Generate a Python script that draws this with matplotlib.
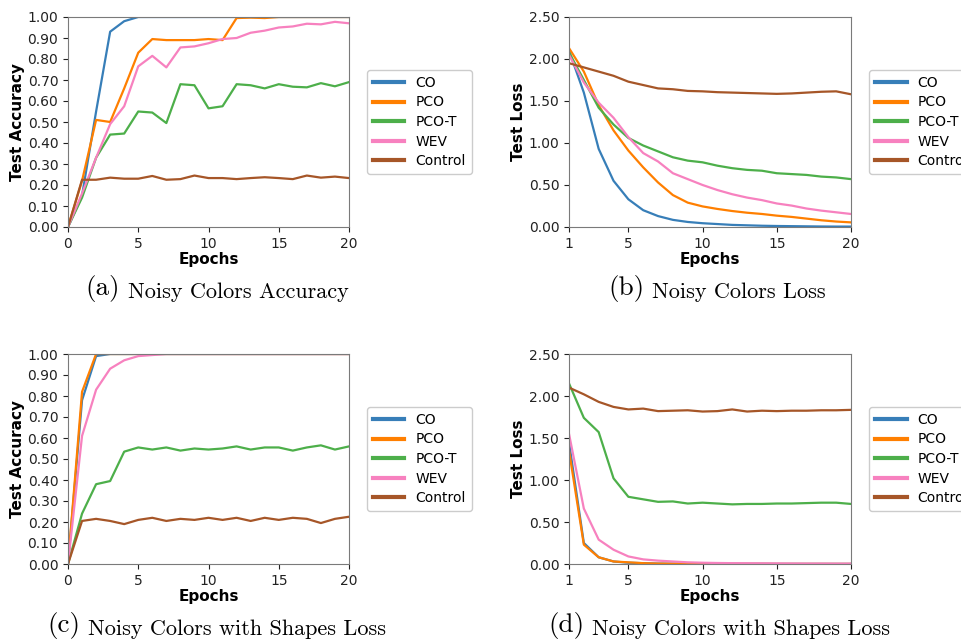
import matplotlib
matplotlib.use("Agg")
import matplotlib.pyplot as plt
from matplotlib.ticker import FormatStrFormatter

# epochs
ep_acc = list(range(0, 21))
ep_loss = list(range(1, 21))

labels = ["CO", "PCO", "PCO-T", "WEV", "Control"]
colors = ["#377eb8", "#ff7f00", "#4daf4a", "#f781bf", "#a65628"]

# (a) Noisy Colors Accuracy
a_co = [0, 0.15, 0.55, 0.93, 0.98, 1.0, 1.0, 1.0, 1.0, 1.0, 1.0, 1.0, 1.0, 1.0, 1.0, 1.0, 1.0, 1.0, 1.0, 1.0, 1.0]
a_pco = [0, 0.22, 0.51, 0.50, 0.66, 0.83, 0.895, 0.89, 0.89, 0.89, 0.895, 0.89, 0.995, 0.997, 0.995, 1.0, 1.0, 1.0, 1.0, 1.0, 1.0]
a_pcot = [0, 0.14, 0.33, 0.44, 0.445, 0.55, 0.545, 0.495, 0.68, 0.675, 0.565, 0.575, 0.68, 0.675, 0.66, 0.68, 0.668, 0.665, 0.685, 0.67, 0.69]
a_wev = [0, 0.16, 0.33, 0.49, 0.575, 0.765, 0.815, 0.76, 0.855, 0.86, 0.875, 0.895, 0.90, 0.925, 0.935, 0.95, 0.955, 0.968, 0.965, 0.977, 0.97]
a_ctrl = [0, 0.225, 0.225, 0.235, 0.23, 0.23, 0.243, 0.225, 0.228, 0.245, 0.233, 0.233, 0.228, 0.233, 0.237, 0.233, 0.228, 0.245, 0.235, 0.24, 0.233]

# (b) Noisy Colors Loss
b_co = [2.10, 1.60, 0.93, 0.55, 0.33, 0.20, 0.13, 0.085, 0.06, 0.045, 0.035, 0.025, 0.02, 0.015, 0.012, 0.01, 0.008, 0.006, 0.005, 0.005]
b_pco = [2.13, 1.85, 1.45, 1.15, 0.91, 0.71, 0.53, 0.38, 0.29, 0.245, 0.215, 0.19, 0.17, 0.155, 0.135, 0.12, 0.10, 0.08, 0.065, 0.055]
b_pcot = [2.08, 1.75, 1.42, 1.22, 1.06, 0.97, 0.90, 0.83, 0.79, 0.77, 0.73, 0.70, 0.68, 0.67, 0.64, 0.63, 0.62, 0.60, 0.59, 0.57]
b_wev = [2.05, 1.72, 1.48, 1.30, 1.07, 0.88, 0.78, 0.64, 0.57, 0.50, 0.44, 0.39, 0.35, 0.32, 0.28, 0.255, 0.22, 0.195, 0.175, 0.155]
b_ctrl = [1.95, 1.90, 1.85, 1.80, 1.73, 1.69, 1.65, 1.64, 1.62, 1.615, 1.605, 1.60, 1.595, 1.59, 1.585, 1.59, 1.60, 1.61, 1.615, 1.58]

# (c) Noisy Colors with Shapes accuracy
c_co = [0, 0.78, 0.99, 1.0, 1.0, 1.0, 1.0, 1.0, 1.0, 1.0, 1.0, 1.0, 1.0, 1.0, 1.0, 1.0, 1.0, 1.0, 1.0, 1.0, 1.0]
c_pco = [0, 0.82, 1.0, 1.0, 1.0, 1.0, 1.0, 1.0, 1.0, 1.0, 1.0, 1.0, 1.0, 1.0, 1.0, 1.0, 1.0, 1.0, 1.0, 1.0, 1.0]
c_pcot = [0, 0.24, 0.38, 0.395, 0.535, 0.555, 0.545, 0.555, 0.54, 0.55, 0.545, 0.55, 0.56, 0.545, 0.555, 0.555, 0.54, 0.555, 0.565, 0.545, 0.56]
c_wev = [0, 0.61, 0.83, 0.93, 0.97, 0.99, 0.995, 1.0, 1.0, 1.0, 1.0, 1.0, 1.0, 1.0, 1.0, 1.0, 1.0, 1.0, 1.0, 1.0, 1.0]
c_ctrl = [0, 0.205, 0.215, 0.205, 0.19, 0.21, 0.22, 0.205, 0.215, 0.21, 0.22, 0.21, 0.22, 0.205, 0.22, 0.21, 0.22, 0.215, 0.195, 0.215, 0.225]

# (d) Noisy Colors with Shapes loss
d_co = [1.45, 0.25, 0.08, 0.03, 0.015, 0.01, 0.005, 0.004, 0.003, 0.003, 0.002, 0.002, 0.002, 0.002, 0.001, 0.001, 0.001, 0.001, 0.001, 0.001]
d_pco = [1.35, 0.23, 0.08, 0.03, 0.02, 0.01, 0.005, 0.004, 0.003, 0.003, 0.002, 0.002, 0.002, 0.002, 0.001, 0.001, 0.001, 0.001, 0.001, 0.001]
d_pcot = [2.15, 1.74, 1.57, 1.02, 0.80, 0.77, 0.74, 0.745, 0.72, 0.73, 0.72, 0.71, 0.715, 0.715, 0.72, 0.72, 0.725, 0.73, 0.73, 0.715]
d_wev = [1.55, 0.66, 0.29, 0.17, 0.09, 0.055, 0.04, 0.03, 0.02, 0.015, 0.012, 0.01, 0.009, 0.008, 0.007, 0.006, 0.005, 0.005, 0.004, 0.004]
d_ctrl = [2.10, 2.02, 1.93, 1.87, 1.84, 1.85, 1.82, 1.825, 1.83, 1.815, 1.82, 1.84, 1.815, 1.825, 1.82, 1.825, 1.825, 1.83, 1.83, 1.835]

panels = [
    ("a", ep_acc, [a_co, a_pco, a_pcot, a_wev, a_ctrl], "Test Accuracy", "Noisy Colors Accuracy"),
    ("b", ep_loss, [b_co, b_pco, b_pcot, b_wev, b_ctrl], "Test Loss", "Noisy Colors Loss"),
    ("c", ep_acc, [c_co, c_pco, c_pcot, c_wev, c_ctrl], "Test Accuracy", "Noisy Colors with Shapes Loss"),
    ("d", ep_loss, [d_co, d_pco, d_pcot, d_wev, d_ctrl], "Test Loss", "Noisy Colors with Shapes Loss"),
]

W, H = 961, 640
fig = plt.figure(figsize=(W / 100, H / 100), dpi=100)

# axes boxes in pixels: left, top, right, bottom
boxes = {"a": (68, 17, 349, 227), "b": (569, 17, 851, 227),
         "c": (68, 354, 349, 564), "d": (569, 354, 851, 564)}
# caption start x and baseline y in pixels
caps = {"a": (85, 295), "b": (608, 295), "c": (47, 632), "d": (548, 632)}

for key, x, series, ylab, cap in panels:
    l, t, r, b = boxes[key]
    ax = fig.add_axes([l / W, 1 - b / H, (r - l) / W, (b - t) / H])
    for ys, lab, col in zip(series, labels, colors):
        ax.plot(x, ys, color=col, lw=1.6, label=lab)
    ax.set_xlim(x[0], x[-1])
    if ylab == "Test Accuracy":
        ax.set_ylim(0, 1)
        ax.set_yticks([i / 10 for i in range(11)])
        ax.set_xticks([0, 5, 10, 15, 20])
    else:
        ax.set_ylim(0, 2.5)
        ax.set_yticks([0, 0.5, 1.0, 1.5, 2.0, 2.5])
        ax.set_xticks([1, 5, 10, 15, 20])
    ax.yaxis.set_major_formatter(FormatStrFormatter("%.2f"))
    ax.tick_params(labelsize=10, colors="#222222", length=3.5)
    for sp in ax.spines.values():
        sp.set_color("#7a7a7a")
    ax.set_xlabel("Epochs", fontsize=11, fontweight="bold", labelpad=1)
    ax.set_ylabel(ylab, fontsize=11, fontweight="bold", labelpad=2)
    leg = ax.legend(loc="center left", bbox_to_anchor=(1.064, 0.5), borderaxespad=0,
                    fontsize=10, handlelength=2.3, labelspacing=0.4, framealpha=1)
    for h in leg.get_lines():
        h.set_linewidth(3)

    # caption under the panel, label larger than the text
    cx, cy = caps[key]
    t1 = fig.text(cx / W, 1 - cy / H, "(%s)" % key, family="cmr10", fontsize=19.5, va="baseline")
    ax.annotate(cap, xy=(1, 0), xycoords=t1, xytext=(6, 0), textcoords="offset points",
                family="cmr10", fontsize=16, va="bottom", annotation_clip=False)

fig.savefig("out.png", dpi=100)
